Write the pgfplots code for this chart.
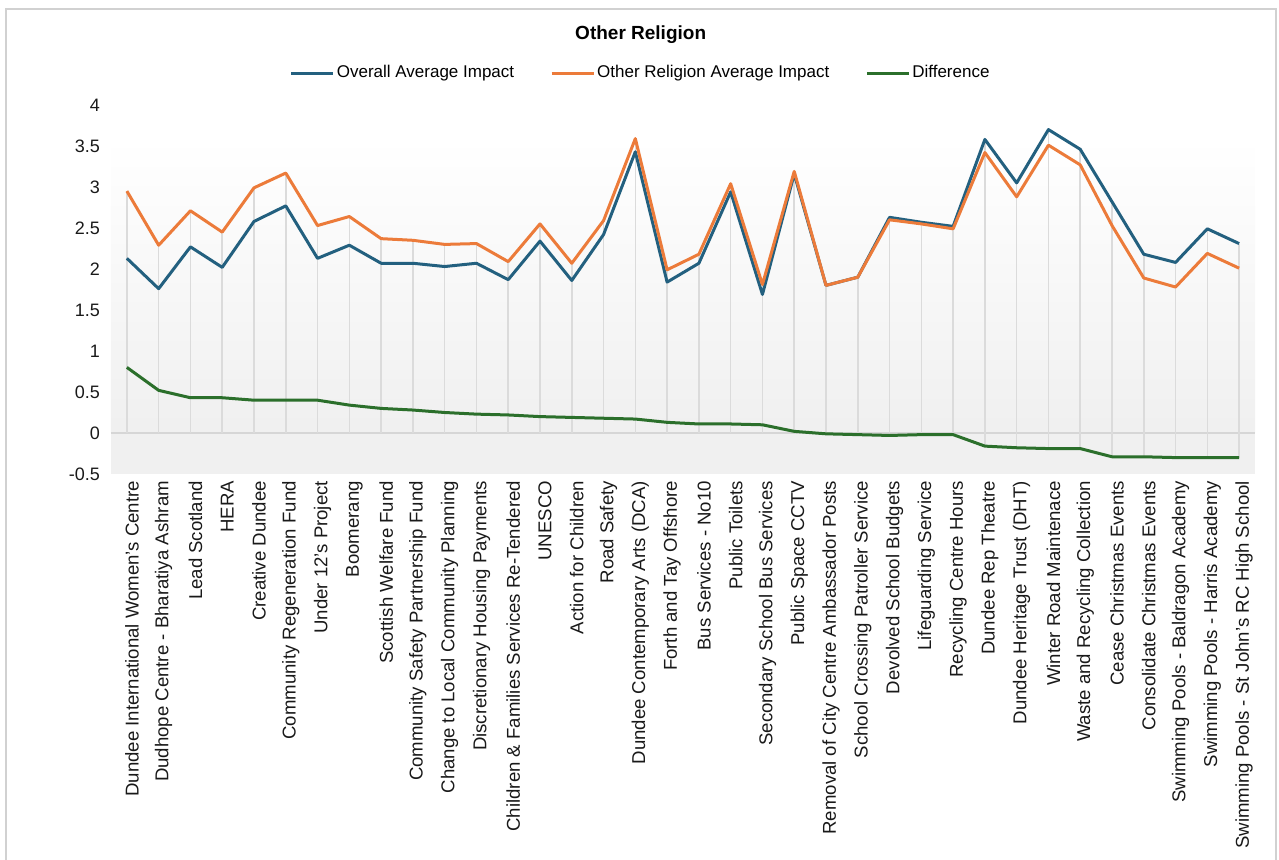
\documentclass[border=0pt]{standalone}
\usepackage{fontspec}
\setmainfont{Liberation Sans}
\usepackage{pgfplots}
\usepackage{pgfplotstable}
\pgfplotsset{compat=1.18}

\definecolor{cblue}{HTML}{23607F}
\definecolor{corange}{HTML}{EC7B3A}
\definecolor{cgreen}{HTML}{2B6F2B}

% x  overall  other  diff
\pgfplotstableread{
x overall other diff
1  2.13 2.95  0.80
2  1.76 2.29  0.52
3  2.27 2.71  0.43
4  2.02 2.45  0.43
5  2.58 2.99  0.40
6  2.77 3.17  0.40
7  2.13 2.53  0.40
8  2.29 2.64  0.34
9  2.07 2.37  0.30
10 2.07 2.35  0.28
11 2.03 2.30  0.25
12 2.07 2.31  0.23
13 1.87 2.09  0.22
14 2.34 2.55  0.20
15 1.86 2.07  0.19
16 2.42 2.59  0.18
17 3.43 3.59  0.17
18 1.84 1.99  0.13
19 2.07 2.18  0.11
20 2.94 3.04  0.11
21 1.69 1.81  0.10
22 3.16 3.19  0.02
23 1.80 1.80 -0.01
24 1.90 1.90 -0.02
25 2.63 2.60 -0.03
26 2.57 2.55 -0.02
27 2.52 2.49 -0.02
28 3.58 3.42 -0.16
29 3.05 2.88 -0.18
30 3.70 3.51 -0.19
31 3.46 3.27 -0.19
32 2.82 2.53 -0.29
33 2.18 1.89 -0.29
34 2.08 1.78 -0.30
35 2.49 2.19 -0.30
36 2.31 2.01 -0.30
}\datatable

\begin{document}
\begin{tikzpicture}
\useasboundingbox (-55.5pt,-193pt) rectangle (584pt,237pt);
% outer frame
\draw[black!18, line width=0.8pt] (-52.5pt,-200pt) -- (-52.5pt,232.5pt) -- (582.5pt,232.5pt) -- (582.5pt,-200pt);
\begin{axis}[
    at={(0,0)}, anchor=south west,
    scale only axis,
    width=572pt, height=184.5pt,
    xmin=0.5, xmax=36.5,
    ymin=-0.5, ymax=4,
    ytick={-0.5,0,0.5,1,1.5,2,2.5,3,3.5,4},
    yticklabels={-0.5,0,0.5,1,1.5,2,2.5,3,3.5,4},
    xtick={1,...,36},
    xticklabels={Dundee International Women's Centre,Dudhope Centre - Bharatiya Ashram,Lead Scotland,HERA,Creative Dundee,Community Regeneration Fund,Under 12's Project,Boomerang,Scottish Welfare Fund,Community Safety Partnership Fund,Change to Local Community Planning,Discretionary Housing Payments,Children \& Families Services Re-Tendered,UNESCO,Action for Children,Road Safety,Dundee Contemporary Arts (DCA),Forth and Tay Offshore,Bus Services - No10,Public Toilets,Secondary School Bus Services,Public Space CCTV,Removal of City Centre Ambassador Posts,School Crossing Patroller Service,Devolved School Budgets,Lifeguarding Service,Recycling Centre Hours,Dundee Rep Theatre,Dundee Heritage Trust (DHT),Winter Road Maintenace,Waste and Recycling Collection,Cease Christmas Events,Consolidate Christmas Events,Swimming Pools - Baldragon Academy,Swimming Pools - Harris Academy,Swimming Pools - St John's RC High School},
    xticklabel style={rotate=90, anchor=east, font=\fontsize{9.3}{10}\selectfont, yshift=-2.5pt, text=black!90},
    yticklabel style={font=\fontsize{9}{10}\selectfont, xshift=-2pt, text=black!90},
    axis line style={draw=none},
    tick style={draw=none},
    title={\bfseries Other Religion},
    title style={at={(0.463,1)}, anchor=center, yshift=29pt, font=\fontsize{9.5}{10}\selectfont},
    legend columns=3,
    legend style={at={(0.463,1)}, anchor=center, yshift=16pt, draw=none, fill=none,
        font=\fontsize{8.5}{10}\selectfont, inner sep=0pt,
        nodes={inner sep=1pt},
        /tikz/every even column/.append style={column sep=17pt}},
    legend image code/.code={\draw[#1, line width=1.5pt] (0pt,0pt) -- (21pt,0pt);},
]
% plot area background
\fill[top color=white, bottom color=black!6] (axis cs:0.5,0) rectangle (axis cs:36.5,3.6);
\fill[black!6] (axis cs:0.5,-0.5) rectangle (axis cs:36.5,0);
\draw[black!16, line width=0.8pt] (axis cs:0.5,0) -- (axis cs:36.5,0);

% drop lines
\addplot[ycomb, black!14, line width=0.8pt, forget plot] table[x=x, y=other] {\datatable};
\addplot[ycomb, black!14, line width=0.8pt, forget plot] table[x=x, y=overall] {\datatable};
\addplot[ycomb, black!14, line width=0.8pt, forget plot] table[x=x, y=diff] {\datatable};

\addplot[cblue, line width=1.5pt, line join=round] table[x=x, y=overall] {\datatable};
\addlegendentry{Overall Average Impact}
\addplot[corange, line width=1.5pt, line join=round] table[x=x, y=other] {\datatable};
\addlegendentry{Other Religion Average Impact}
\addplot[cgreen, line width=1.5pt, line join=round] table[x=x, y=diff] {\datatable};
\addlegendentry{Difference}
\end{axis}
\end{tikzpicture}
\end{document}
